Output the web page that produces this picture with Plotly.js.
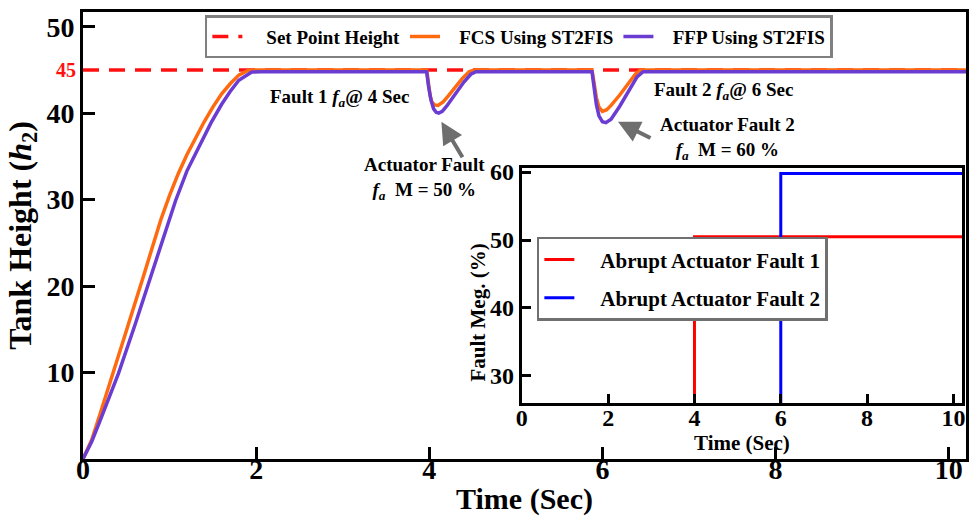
<!DOCTYPE html>
<html>
<head>
<meta charset="utf-8">
<script src="https://cdn.plot.ly/plotly-3.0.1.min.js"></script>
<style>
  html, body { margin: 0; padding: 0; background: #fff; }
  #chart { width: 969px; height: 516px; }
</style>
</head>
<body>
<div id="chart"></div>
<script>
// Tank level response (h2) under two abrupt actuator faults
const setPointTime = [0, 10.2];
const setPointHeight = [45, 45];

const fcsTime = [0, 0.1, 0.2, 0.35, 0.5, 0.7, 0.9, 1.0, 1.1, 1.2, 1.3, 1.4, 1.5, 1.6, 1.7, 1.8, 1.9, 2.0,
  3.97, 3.99, 4.01, 4.03, 4.06, 4.1, 4.16, 4.22, 4.3, 4.38, 4.46, 4.52,
  5.88, 5.9, 5.93, 5.96, 6.0, 6.05, 6.1, 6.2, 6.3, 6.38, 6.44, 10.2];
const fcsHeight = [0, 2.2, 5.3, 9.9, 14.8, 21.2, 27.7, 30.5, 33.0, 35.2, 37.2, 39.0, 40.7, 42.2, 43.4, 44.4, 44.9, 45.0,
  45.0, 43.4, 42.0, 41.3, 40.95, 40.9, 41.3, 42.0, 43.0, 44.0, 44.8, 45.0,
  45.0, 43.5, 41.8, 40.7, 40.2, 40.4, 40.9, 42.1, 43.5, 44.5, 45.0, 45.0];

const ffpTime = [0, 0.1, 0.2, 0.41, 0.6, 0.8, 1.0, 1.07, 1.2, 1.29, 1.4, 1.48, 1.6, 1.7, 1.8, 1.9, 1.95, 2.05,
  3.97, 3.99, 4.02, 4.05, 4.08, 4.11, 4.15, 4.2, 4.3, 4.4, 4.48, 4.54,
  5.88, 5.9, 5.93, 5.96, 6.0, 6.04, 6.1, 6.2, 6.3, 6.4, 6.47, 10.2];
const ffpHeight = [0, 2.0, 4.5, 9.9, 15.5, 21.5, 27.8, 29.9, 33.3, 35.1, 37.5, 38.9, 41.0, 42.5, 43.8, 44.5, 44.75, 44.8,
  44.8, 43.2, 41.5, 40.5, 40.1, 40.0, 40.2, 40.8, 42.2, 43.6, 44.5, 44.8,
  44.8, 43.0, 41.0, 39.7, 39.0, 38.9, 39.3, 40.8, 42.5, 44.2, 44.8, 44.8];

// Fault magnitude (%) applied to the actuator
const fault1Time = [4, 4, 10.2];
const fault1Mag = [26, 50.5, 50.5];
const fault2Time = [6, 6, 10.2];
const fault2Mag = [26, 59.8, 59.8];

const yTicks = [10, 20, 30, 40, 50];
const xTicks = [0, 2, 4, 6, 8, 10];
const insetYTicks = [30, 40, 50, 60];

const serif = 'Liberation Serif, Times New Roman, serif';
const boldFont = (size, color) => ({ family: serif, size: size, color: color || '#000', weight: 'bold' });
const pad = n => '\u00a0'.repeat(n);

const traces = [
  { x: setPointTime, y: setPointHeight, name: pad(4) + 'Set Point Height', mode: 'lines',
    line: { color: '#ff1010', width: 3.5, dash: '16px,10px' }, xaxis: 'x', yaxis: 'y', legend: 'legend' },
  { x: fcsTime, y: fcsHeight, name: pad(3) + 'FCS Using ST2FIS', mode: 'lines', line: { color: '#ff6a10', width: 3.5 },
    xaxis: 'x', yaxis: 'y', legend: 'legend' },
  { x: ffpTime, y: ffpHeight, name: pad(3) + 'FFP Using ST2FIS', mode: 'lines', line: { color: '#6a3cd2', width: 3.5 },
    xaxis: 'x', yaxis: 'y', legend: 'legend' },
  { x: fault1Time, y: fault1Mag, name: pad(4) + 'Abrupt Actuator Fault 1', mode: 'lines', line: { color: '#ff0000', width: 3 },
    xaxis: 'x2', yaxis: 'y2', legend: 'legend2', legendgroup: 'f1' },
  { x: fault2Time, y: fault2Mag, name: pad(4) + 'Abrupt Actuator Fault 2', mode: 'lines', line: { color: '#0000ff', width: 3 },
    xaxis: 'x2', yaxis: 'y2', legend: 'legend2', legendgroup: 'f2' }
];

const axisStyle = {
  showline: true, linecolor: '#000', linewidth: 3, mirror: true,
  ticks: 'inside', ticklen: 12, tickwidth: 3, tickcolor: '#000',
  showgrid: false, zeroline: false
};

const layout = {
  width: 969, height: 516,
  margin: { l: 83, r: 3, t: 12, b: 57 },
  paper_bgcolor: '#fff', plot_bgcolor: '#fff',
  font: { family: serif, color: '#000' },
  showlegend: true,
  xaxis: Object.assign({}, axisStyle, {
    domain: [0, 1], range: [0, 10.2], tickvals: xTicks, tickfont: boldFont(28),
    ticklabelstandoff: -17,
    title: { text: 'Time (Sec)', font: boldFont(30), standoff: 14 }
  }),
  yaxis: Object.assign({}, axisStyle, {
    domain: [0, 1], range: [0, 51.7], tickvals: yTicks, tickfont: boldFont(28),
    title: { text: 'Tank Height (<i>h</i><sub>2</sub>)', font: boldFont(32), standoff: 6 }
  }),
  xaxis2: Object.assign({}, axisStyle, {
    domain: [0.497, 0.9955], range: [0, 10.2], anchor: 'y2', tickvals: xTicks, tickfont: boldFont(24),
    ticklen: 9, ticklabelstandoff: -9,
    title: { text: 'Time (Sec)', font: boldFont(21), standoff: 0 }
  }),
  yaxis2: Object.assign({}, axisStyle, {
    domain: [0.125, 0.651], range: [26, 60.6], anchor: 'x2', tickvals: insetYTicks, tickfont: boldFont(24),
    ticklen: 9
  }),
  legend: {
    orientation: 'h', x: 0.138, y: 0.993, xanchor: 'left', yanchor: 'top',
    bgcolor: '#fff', bordercolor: '#808080', borderwidth: 2.5,
    font: boldFont(19)
  },
  legend2: {
    orientation: 'v', x: 0.514, y: 0.497, xanchor: 'left', yanchor: 'top',
    bgcolor: '#fff', bordercolor: '#707070', borderwidth: 2.5,
    font: boldFont(21), tracegroupgap: 8
  },
  annotations: [
    { xref: 'paper', yref: 'y', x: 0, y: 45, xanchor: 'right', yanchor: 'middle', xshift: -5, text: '45',
      showarrow: false, font: boldFont(20, '#ff1010') },
    { xref: 'paper', yref: 'paper', x: 0.447, y: 0.327, xanchor: 'center', yanchor: 'middle',
      text: 'Fault Meg. (%)', textangle: -90, showarrow: false, font: boldFont(21) },
    { xref: 'x', yref: 'y', x: 2.96, y: 41.7, text: 'Fault 1 <i>f<sub>a</sub></i>@ 4 Sec',
      showarrow: false, font: boldFont(19) },
    { xref: 'x', yref: 'y', x: 3.94, y: 32.5, text: 'Actuator Fault<br><i>f<sub>a</sub></i>  M = 50 %',
      showarrow: false, font: boldFont(19), align: 'center' },
    { xref: 'x', yref: 'y', x: 7.40, y: 42.6, text: 'Fault 2 <i>f<sub>a</sub></i>@ 6 Sec',
      showarrow: false, font: boldFont(19) },
    { xref: 'x', yref: 'y', x: 7.44, y: 37.1, text: 'Actuator Fault 2<br><i>f<sub>a</sub></i>  M = 60 %',
      showarrow: false, font: boldFont(19), align: 'center' },
    { xref: 'x', yref: 'y', x: 4.14, y: 39.0, text: '', showarrow: true,
      ax: 22, ay: 37, arrowhead: 2, arrowsize: 1.1, arrowwidth: 4, arrowcolor: '#6e6e6e' },
    { xref: 'x', yref: 'y', x: 6.18, y: 39.0, text: '', showarrow: true,
      ax: 34, ay: 17, arrowhead: 2, arrowsize: 1.1, arrowwidth: 4, arrowcolor: '#6e6e6e' }
  ]
};

Plotly.newPlot('chart', traces, layout, { displayModeBar: false, staticPlot: true });
</script>
</body>
</html>
